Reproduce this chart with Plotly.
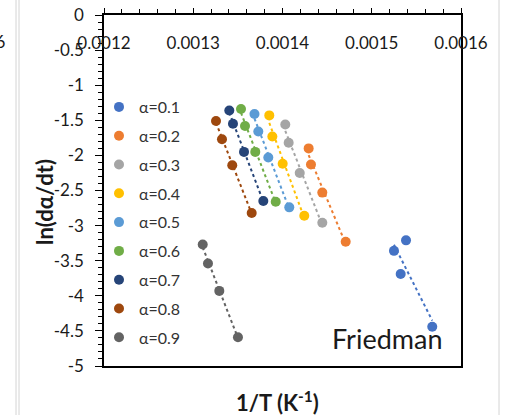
import numpy as np
import plotly.graph_objects as go

# ---- data ----
alpha_labels = ["α=0.1", "α=0.2", "α=0.3", "α=0.4", "α=0.5",
                "α=0.6", "α=0.7", "α=0.8", "α=0.9"]
colors = ["#4472C4", "#ED7D31", "#A5A5A5", "#FFC000", "#5B9BD5",
          "#70AD47", "#264478", "#9E480E", "#636363"]

inv_T_a01 = [0.0015384, 0.0015249, 0.0015324, 0.0015678]
ln_rate_a01 = [-3.21, -3.36, -3.69, -4.44]
inv_T_a02 = [0.0014293, 0.0014319, 0.0014446, 0.0014708]
ln_rate_a02 = [-1.90, -2.13, -2.53, -3.23]
inv_T_a03 = [0.0014031, 0.0014069, 0.0014193, 0.0014446]
ln_rate_a03 = [-1.56, -1.82, -2.25, -2.96]
inv_T_a04 = [0.0013852, 0.0013886, 0.0014002, 0.0014244]
ln_rate_a04 = [-1.43, -1.73, -2.12, -2.86]
inv_T_a05 = [0.0013686, 0.0013729, 0.0013841, 0.0014076]
ln_rate_a05 = [-1.41, -1.66, -2.03, -2.74]
inv_T_a06 = [0.0013535, 0.0013580, 0.0013695, 0.0013924]
ln_rate_a06 = [-1.34, -1.58, -1.95, -2.66]
inv_T_a07 = [0.0013404, 0.0013445, 0.0013569, 0.0013785]
ln_rate_a07 = [-1.36, -1.55, -1.95, -2.65]
inv_T_a08 = [0.0013255, 0.0013322, 0.0013437, 0.0013655]
ln_rate_a08 = [-1.51, -1.77, -2.14, -2.82]
inv_T_a09 = [0.0013106, 0.0013165, 0.0013292, 0.0013501]
ln_rate_a09 = [-3.27, -3.54, -3.93, -4.59]

x_ticks = [0.0012, 0.0013, 0.0014, 0.0015, 0.0016]
x_tick_text = ["0.0012", "0.0013", "0.0014", "0.0015", "0.0016"]
y_ticks = [0, -0.5, -1, -1.5, -2, -2.5, -3, -3.5, -4, -4.5, -5]
y_tick_text = ["0", "-0.5", "-1", "-1.5", "-2", "-2.5", "-3", "-3.5", "-4", "-4.5", "-5"]

series_x = [inv_T_a01, inv_T_a02, inv_T_a03, inv_T_a04, inv_T_a05,
            inv_T_a06, inv_T_a07, inv_T_a08, inv_T_a09]
series_y = [ln_rate_a01, ln_rate_a02, ln_rate_a03, ln_rate_a04, ln_rate_a05,
            ln_rate_a06, ln_rate_a07, ln_rate_a08, ln_rate_a09]

FONT = "Lato, 'Open Sans', sans-serif"
TICK_SIZE = 17
W, H = 511, 415
L, R, T, B = 104, 50, 15, 49
PW, PH = W - L - R, H - T - B


def px_x(px):
    return (px - L) / PW


def px_y(py):
    return (H - B - py) / PH


fig = go.Figure()

# trendlines (linear fits, Excel-style dotted)
for xs, ys, c in zip(series_x, series_y, colors):
    k, b0 = np.polyfit(xs, ys, 1)
    xl = np.array([min(xs), max(xs)])
    fig.add_trace(go.Scatter(x=xl, y=k * xl + b0, mode="lines",
                             line=dict(color=c, width=2, dash="dot"),
                             showlegend=False, hoverinfo="skip"))

for i, (xs, ys, c, name) in enumerate(zip(series_x, series_y, colors, alpha_labels)):
    fig.add_trace(go.Scatter(x=xs, y=ys, mode="markers", name=name,
                             legendgroup=f"g{i}",
                             marker=dict(color=c, size=10)))

# invisible helper trace on the label axis so it renders
fig.add_trace(go.Scatter(x=[x_ticks[0]], y=[-5], xaxis="x2", mode="markers",
                         marker=dict(opacity=0), showlegend=False,
                         hoverinfo="skip"))

fig.update_layout(
    width=W, height=H,
    margin=dict(l=L, r=R, t=T, b=B, autoexpand=False),
    paper_bgcolor="white", plot_bgcolor="white",
    font=dict(family=FONT, size=TICK_SIZE, color="#1a1a1a"),
    showlegend=True,
    legend=dict(x=px_x(99), y=px_y(90), xanchor="left", yanchor="top",
                bgcolor="rgba(0,0,0,0)", font=dict(size=16, color="#333"),
                tracegroupgap=5, itemwidth=30),
    xaxis=dict(range=[0.0012, 0.0016], side="top", showline=True, mirror=True,
               automargin=False,
               linecolor="black", linewidth=1.5, showgrid=False, zeroline=False,
               tickvals=x_ticks, ticks="outside", showticklabels=False,
               ticklen=5, tickwidth=1.2, tickcolor="black",
               minor=dict(dtick=0.00002, ticks="outside", ticklen=4,
                          tickwidth=1.2, tickcolor="black")),
    xaxis2=dict(range=[0.0012, 0.0016], overlaying="x", anchor="free",
                position=px_y(31), side="bottom", showline=False,
                automargin=False, showgrid=False, zeroline=False, ticks="",
                tickvals=x_ticks, ticktext=x_tick_text,
                tickfont=dict(size=TICK_SIZE, color="#1a1a1a")),
    yaxis=dict(range=[-5, 0], showline=True, mirror=True, linecolor="black",
               automargin=False,
               linewidth=1.5, showgrid=False, zeroline=False,
               tickvals=y_ticks, ticktext=y_tick_text, ticks="outside",
               ticklen=7, tickwidth=1.2, tickcolor="black",
               ticklabelstandoff=8,
               tickfont=dict(size=TICK_SIZE, color="#1a1a1a"),
               minor=dict(dtick=0.1, ticks="outside", ticklen=4,
                          tickwidth=1.2, tickcolor="black")),
)

common = dict(xref="paper", yref="paper", showarrow=False,
              xanchor="center", yanchor="middle")
annotations = [
    dict(text="Friedman", x=px_x(387), y=px_y(338),
         font=dict(size=27, color="#1a1a1a"), **common),
    dict(text="<b>ln(dα/dt)</b>", x=px_x(45), y=px_y(202), textangle=-90,
         font=dict(size=22, color="#1a1a1a"), **common),
    dict(text="<b>1/T (K<sup>-1</sup>)</b>", x=px_x(277), y=px_y(401),
         font=dict(size=22, color="#1a1a1a"), **common),
    dict(text="0.0016", x=px_x(7), y=px_y(42), xref="paper", yref="paper",
         xanchor="right", yanchor="middle", showarrow=False,
         font=dict(size=TICK_SIZE, color="#1a1a1a")),
]
fig.update_layout(annotations=annotations)

shapes = []
for xp in (16, 19, 499):
    shapes.append(dict(type="line", xref="paper", yref="paper",
                       x0=px_x(xp), x1=px_x(xp), y0=px_y(0), y1=px_y(H),
                       line=dict(color="#d4d4d4", width=1)))
fig.update_layout(shapes=shapes)

fig.write_html("out.html")
